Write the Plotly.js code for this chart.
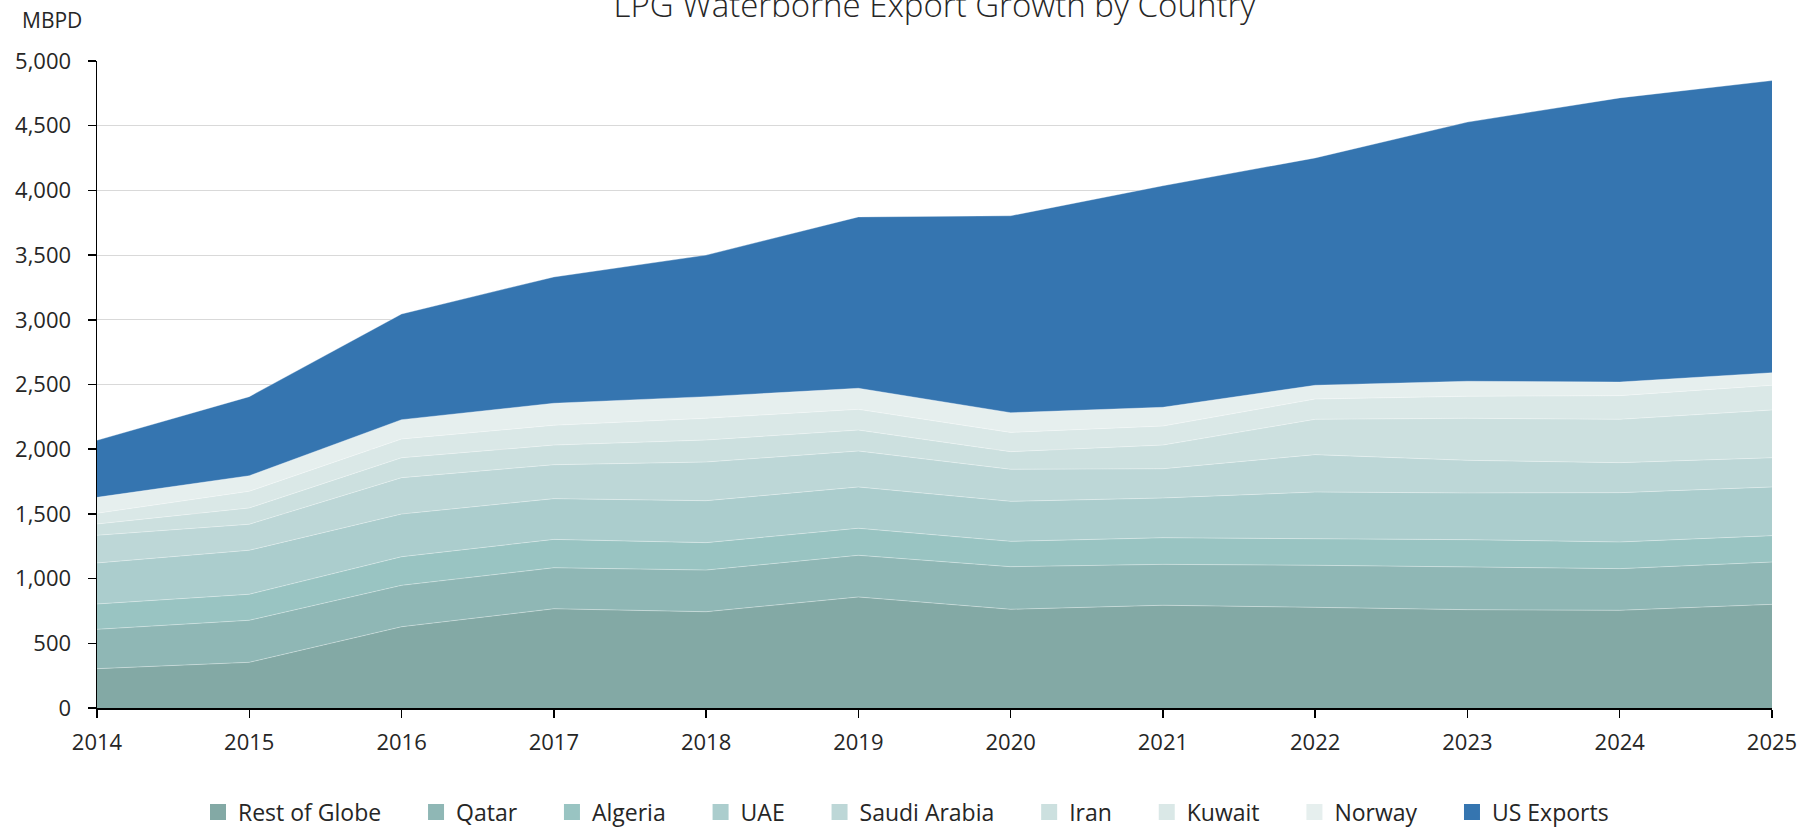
<!DOCTYPE html>
<html>
<head>
<meta charset="utf-8">
<script src="https://cdn.plot.ly/plotly-3.0.1.min.js"></script>
<style>html,body{margin:0;padding:0;background:#fff;}#chart{width:1812px;height:832px;}</style>
</head>
<body>
<div id="chart"></div>
<script>
const years = [2014, 2015, 2016, 2017, 2018, 2019, 2020, 2021, 2022, 2023, 2024, 2025];
const restOfGlobe = [304, 353, 628, 767, 744, 858, 763, 794, 778, 760, 755, 801];
const qatar       = [304, 325, 320, 317, 322, 322, 329, 316, 325, 330, 322, 327];
const algeria     = [196, 201, 221, 219, 212, 209, 196, 206, 205, 211, 206, 204];
const uae         = [317, 340, 330, 315, 324, 319, 309, 307, 361, 361, 381, 376];
const saudiArabia = [214, 201, 281, 262, 299, 278, 248, 226, 289, 252, 232, 226];
const iran        = [87, 126, 154, 152, 170, 162, 136, 183, 273, 325, 335, 369];
const kuwait      = [83, 129, 145, 153, 168, 160, 149, 147, 157, 170, 183, 191];
const norway      = [123, 120, 149, 170, 167, 163, 152, 145, 106, 116, 105, 97];
const usExports   = [441, 611, 817, 976, 1094, 1324, 1522, 1712, 1757, 2003, 2196, 2258];

const seriesNames = ["Rest of Globe", "Qatar", "Algeria", "UAE", "Saudi Arabia", "Iran", "Kuwait", "Norway", "US Exports"];
const seriesData = [restOfGlobe, qatar, algeria, uae, saudiArabia, iran, kuwait, norway, usExports];
const seriesColors = ["#83a9a5", "#8fb7b5", "#99c4c2", "#abcdcd", "#bdd7d7", "#cce0df", "#dae8e7", "#e6efee", "#3575b0"];

const font = "Open Sans, Noto Sans, sans-serif";
const pad = "\u00a0\u00a0\u00a0\u00a0\u00a0";

const areaTraces = seriesNames.map((name, i) => ({
  type: "scatter",
  mode: "lines",
  name: name,
  x: years,
  y: seriesData[i],
  stackgroup: "one",
  fillcolor: seriesColors[i],
  line: {width: 0.6, color: "rgba(255,255,255,0.55)"},
  showlegend: false,
  hoverinfo: "x+y+name"
}));

// legend-only entries (square swatches)
const legendTraces = seriesNames.map((name, i) => ({
  type: "scatter",
  mode: "markers",
  name: i < seriesNames.length - 1 ? name + pad : name,
  x: [null],
  y: [null],
  marker: {symbol: "square", size: 16, color: seriesColors[i], line: {width: 0}},
  showlegend: true,
  hoverinfo: "skip"
}));

const layout = {
  width: 1812,
  height: 832,
  paper_bgcolor: "#ffffff",
  plot_bgcolor: "#ffffff",
  margin: {l: 97, r: 40, t: 61, b: 124},
  font: {family: font, color: "#262626", size: 22},
  title: {
    text: "LPG Waterborne Export Growth by Country",
    font: {family: font, size: 33, color: "#262626", weight: 300},
    xref: "paper", x: 0.5, xanchor: "center",
    yref: "container", y: (832 - 5.5) / 832, yanchor: "middle"
  },
  xaxis: {
    range: [2014, 2025],
    tickmode: "array",
    tickvals: years,
    ticktext: years.map(String),
    showgrid: false,
    zeroline: false,
    showline: true,
    linecolor: "#000000",
    linewidth: 1.5,
    ticks: "outside",
    ticklen: 8,
    tickcolor: "#000000",
    tickwidth: 1.5,
    ticklabelstandoff: 6,
    tickfont: {family: font, size: 22, color: "#262626"}
  },
  yaxis: {
    range: [0, 5000],
    tickmode: "linear",
    tick0: 0,
    dtick: 500,
    tickformat: ",d",
    showgrid: true,
    gridcolor: "#d9d9d9",
    gridwidth: 1,
    zeroline: false,
    showline: true,
    linecolor: "#000000",
    linewidth: 1.5,
    ticks: "outside",
    ticklen: 8,
    tickcolor: "#000000",
    tickwidth: 1.5,
    ticklabelstandoff: 12,
    tickfont: {family: font, size: 22, color: "#262626"}
  },
  legend: {
    orientation: "h",
    traceorder: "normal",
    x: 0.5, xanchor: "center", xref: "container",
    y: 20 / 832, yanchor: "middle", yref: "container",
    font: {family: font, size: 23, color: "#262626"},
    itemwidth: 30,
    bgcolor: "rgba(0,0,0,0)"
  },
  annotations: [{
    text: "MBPD",
    xref: "paper", yref: "paper",
    x: (52 - 97) / 1675, xanchor: "center",
    y: (708 - 20) / 647, yanchor: "middle",
    showarrow: false,
    font: {family: font, size: 21, color: "#262626"}
  }],
  showlegend: true
};

Plotly.newPlot("chart", areaTraces.concat(legendTraces), layout, {displayModeBar: false, staticPlot: true});
</script>
</body>
</html>
